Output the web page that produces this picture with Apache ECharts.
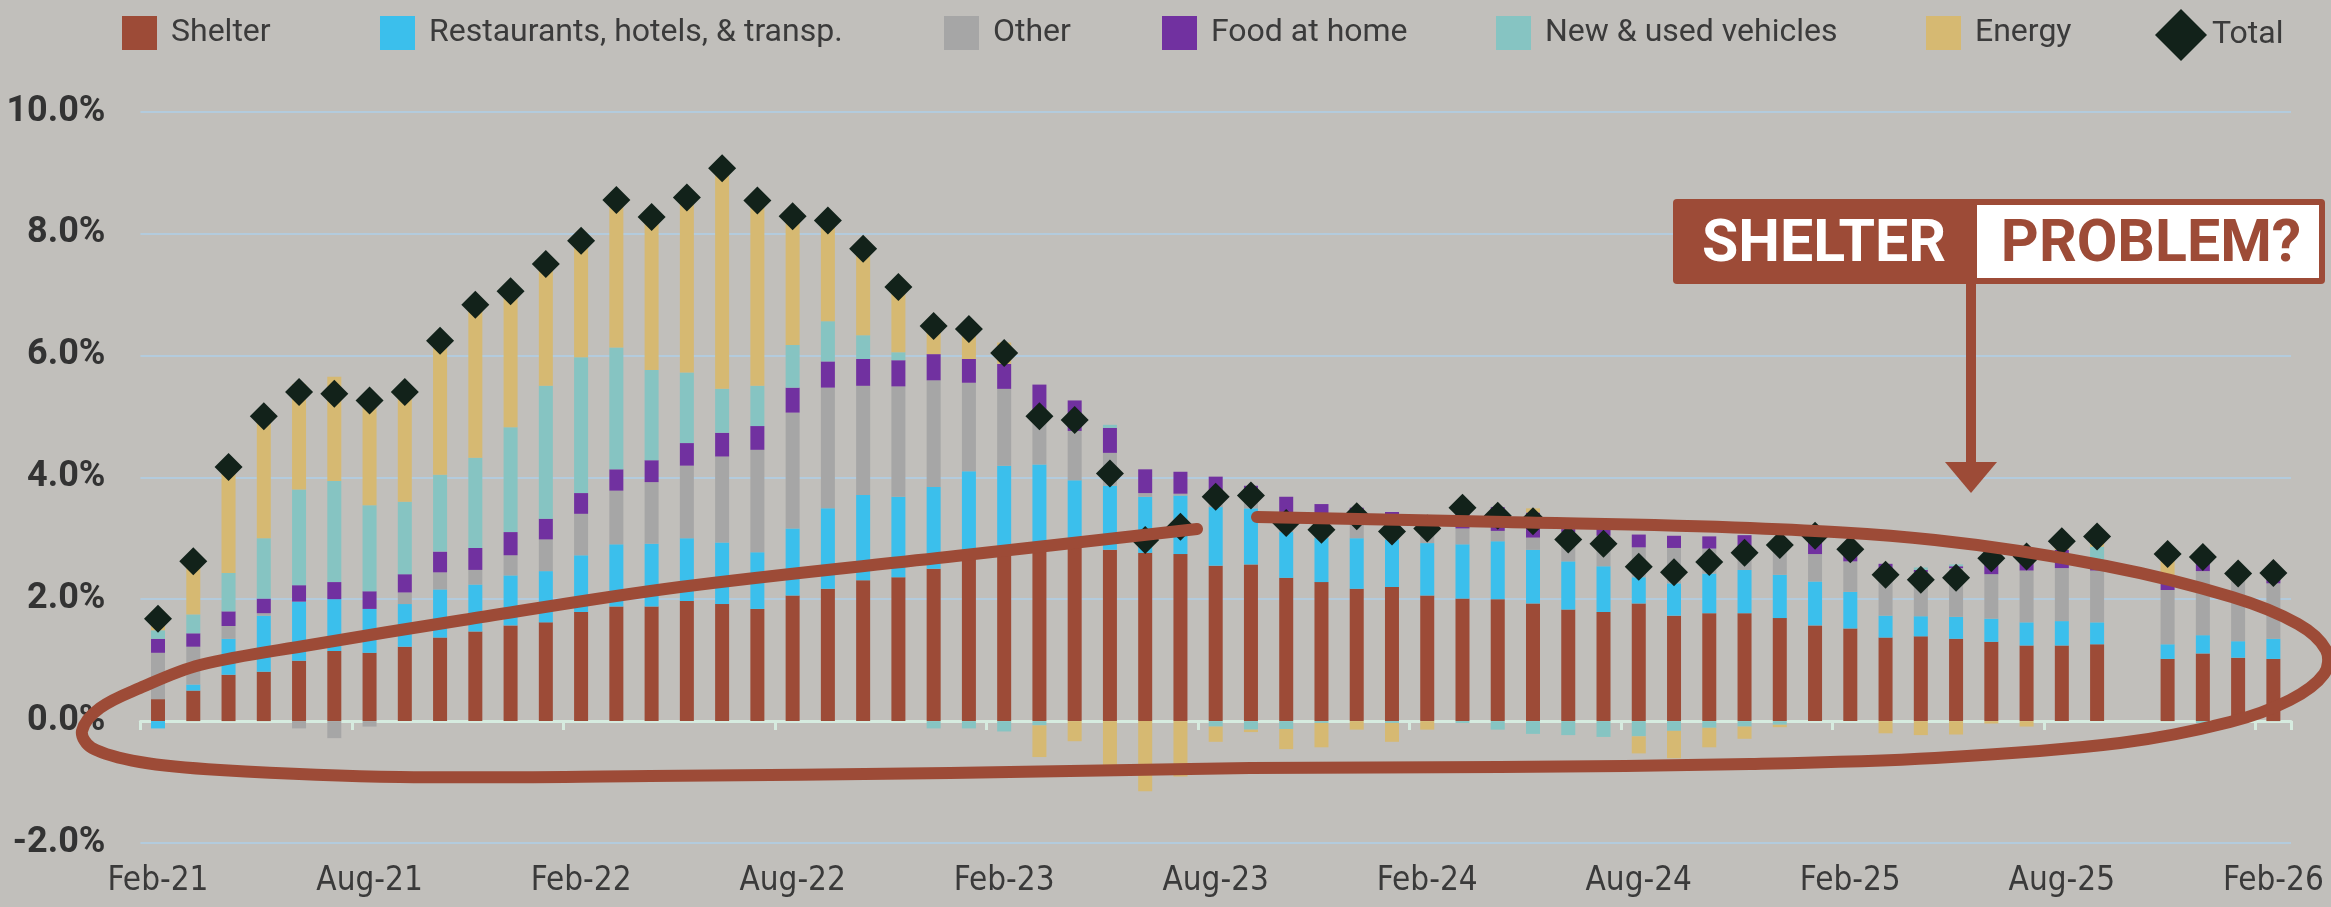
<!DOCTYPE html>
<html><head><meta charset="utf-8">
<script src="https://cdn.jsdelivr.net/npm/echarts@6/dist/echarts.min.js"></script>
<style>html,body{margin:0;padding:0;background:#c1bfbb;}#c{width:2331px;height:907px;}</style>
</head><body><div id="c"></div>
<script>
const categories = ['Feb-21','Mar-21','Apr-21','May-21','Jun-21','Jul-21','Aug-21','Sep-21','Oct-21','Nov-21','Dec-21',
'Jan-22','Feb-22','Mar-22','Apr-22','May-22','Jun-22','Jul-22','Aug-22','Sep-22','Oct-22','Nov-22','Dec-22',
'Jan-23','Feb-23','Mar-23','Apr-23','May-23','Jun-23','Jul-23','Aug-23','Sep-23','Oct-23','Nov-23','Dec-23',
'Jan-24','Feb-24','Mar-24','Apr-24','May-24','Jun-24','Jul-24','Aug-24','Sep-24','Oct-24','Nov-24','Dec-24',
'Jan-25','Feb-25','Mar-25','Apr-25','May-25','Jun-25','Jul-25','Aug-25','Sep-25','Oct-25','Nov-25','Dec-25',
'Jan-26','Feb-26'];

const shelter = [0.36,0.50,0.76,0.81,0.99,1.15,1.12,1.22,1.37,1.47, 1.57,1.62,1.79,1.88,1.88,1.97,1.92,1.84,2.06,2.17,
 2.31,2.36,2.50,2.72,2.83,2.83,2.85,2.81,2.76,2.74, 2.55,2.57,2.35,2.28,2.17,2.20,2.06,2.01,2.00,1.93,
 1.83,1.79,1.93,1.73,1.77,1.77,1.69,1.57,1.52,1.37, 1.39,1.35,1.30,1.24,1.24,1.26,null,1.02,1.11,1.04, 1.02];
const restaurants = [-0.12,0.10,0.59,0.92,0.97,0.85,0.72,0.70,0.79,0.77, 0.82,0.84,0.93,1.02,1.03,1.03,1.01,0.93,1.10,1.32,
 1.40,1.32,1.34,1.38,1.36,1.38,1.10,1.05,0.92,0.96, 0.96,0.92,0.75,0.73,0.83,0.78,0.86,0.89,0.95,0.88,
 0.79,0.75,0.43,0.53,0.65,0.71,0.71,0.72,0.60,0.36, 0.33,0.36,0.38,0.38,0.40,0.36,null,0.24,0.30,0.27, 0.33];
const other = [0.76,0.62,0.21,0.04,-0.12,-0.28,-0.09,0.19,0.28,0.24, 0.33,0.52,0.68,0.88,1.01,1.19,1.41,1.68,1.90,1.98,
 1.79,1.81,1.75,1.45,1.26,0.90,0.81,0.54,0.06,0.03, 0.27,0.31,0.32,0.35,0.36,0.25,0.28,0.26,0.17,0.20,
 0.48,0.50,0.49,0.58,0.41,0.38,0.45,0.45,0.50,0.66, 0.72,0.80,0.73,0.85,0.87,0.85,null,0.89,1.05,1.03, 0.91];
const foodAtHome = [0.23,0.22,0.24,0.24,0.27,0.28,0.29,0.30,0.34,0.36, 0.38,0.34,0.34,0.35,0.36,0.37,0.39,0.39,0.41,0.43,
 0.44,0.43,0.43,0.39,0.41,0.41,0.50,0.41,0.39,0.36, 0.23,0.06,0.26,0.20,0.14,0.20,0.10,0.37,0.39,0.41,
 0.05,0.13,0.21,0.20,0.20,0.19,0.13,0.30,0.20,0.19, 0.04,0.03,0.30,0.33,0.30,0.03,null,0.21,0.22,0.08, 0.17];
const vehicles = [0.14,0.31,0.63,0.99,1.57,1.66,1.41,1.19,1.26,1.48, 1.72,2.18,2.23,2.00,1.48,1.16,0.72,0.66,0.70,0.66,
 0.39,0.13,-0.12,-0.12,-0.17,-0.07,0,0.05,0,0, -0.09,-0.14,-0.13,-0.03,0,-0.03,0,-0.03,-0.14,-0.21,
 -0.23,-0.26,-0.25,-0.16,-0.11,-0.09,-0.06,0,0,0, 0.04,0.03,0,0,0,0.36,null,0,-0.03,-0.03, 0];
const energy = [0.31,0.86,1.74,1.99,1.73,1.71,1.81,1.81,2.21,2.51, 2.22,2.00,1.90,2.43,2.52,2.87,3.61,3.04,2.11,1.64,
 1.41,1.06,0.57,0.60,0.35,-0.52,-0.33,-0.76,-1.15,-0.91, -0.25,-0.04,-0.33,-0.40,-0.14,-0.31,-0.14,0,0,0.07,
 0.06,0,-0.28,-0.45,-0.32,-0.20,-0.04,0,0,-0.20, -0.23,-0.22,-0.04,-0.09,0.14,0.17,null,0.38,0,0, 0];
const total = [1.68,2.62,4.17,5.00,5.40,5.37,5.26,5.40,6.24,6.83, 7.05,7.50,7.88,8.55,8.27,8.59,9.07,8.54,8.28,8.21,
 7.75,7.12,6.48,6.43,6.04,5.00,4.94,4.06,2.97,3.19, 3.68,3.70,3.25,3.14,3.36,3.11,3.16,3.50,3.37,3.28,
 2.98,2.91,2.53,2.44,2.61,2.76,2.89,3.04,2.82,2.40, 2.32,2.35,2.67,2.70,2.95,3.03,null,2.74,2.69,2.42, 2.43];
const yTicks = {min: -2, max: 10, step: 2};

const RED = '#9d4b37';
const barDefs = [
  ['Shelter', shelter, '#9d4b37'],
  ['Restaurants, hotels, & transp.', restaurants, '#3bbfec'],
  ['Other', other, '#a6a6a6'],
  ['Food at home', foodAtHome, '#7131a0'],
  ['New & used vehicles', vehicles, '#86c4c2'],
  ['Energy', energy, '#d6b972']
];
const legendLefts = [117, 375, 939, 1157, 1491, 1921];

const chart = echarts.init(document.getElementById('c'), null, {renderer: 'canvas'});
const series = barDefs.map(([name, data, color]) => ({
  name, type: 'bar', stack: 'cpi', data, barWidth: 14, xAxisIndex: 0,
  itemStyle: {color}, emphasis: {disabled: true}
}));
series.push({
  name: 'Total', type: 'scatter', data: total, xAxisIndex: 0, symbol: 'diamond', symbolSize: 28,
  itemStyle: {color: '#12221a', opacity: 1}, z: 5, emphasis: {disabled: true}
});

const loopPts = [[1257,517],[1506,522],[1750,528],[1935,540],[2106,566],[2232,597],[2298,624],[2326,650],[2324,674],
 [2290,700],[2230,722],[2120,743],[1935,758],[1750,764],[1500,767],[1250,768],[950,773],[650,776],[400,777],
 [220,770],[140,762],[92,748],[82,731],[100,708],[140,688],[200,665],[310,645],[463,620],[680,587],[956,556],[1197,529]];

const legendText = {fontFamily: 'Roboto', fontSize: 32, color: '#3b3b3b', padding: [0,0,0,9]};
const legends = barDefs.map((d, i) => ({
  data: [d[0]], left: legendLefts[i], top: 11, icon: 'rect', itemWidth: 35, itemHeight: 34,
  textStyle: legendText, selectedMode: false
}));
legends.push({data: ['Total'], left: 2150, top: 4, icon: 'diamond', itemWidth: 52, itemHeight: 52,
  textStyle: {fontFamily: 'Roboto', fontSize: 32, color: '#3b3b3b'}, selectedMode: false});

const option = {
  backgroundColor: '#c1bfbb',
  animation: false,
  grid: {left: 140.4, right: 40, top: 111.5, bottom: 64},
  legend: legends,
  xAxis: [
    {type: 'category', data: categories, position: 'bottom',
     axisLine: {onZero: true, lineStyle: {color: '#d6ebdf', width: 3}},
     axisTick: {show: true, interval: 5, length: 9, lineStyle: {color: '#d6ebdf', width: 3}},
     axisLabel: {show: false}, splitLine: {show: false}},
    {type: 'category', data: categories, position: 'bottom',
     axisLine: {show: false, onZero: false}, axisTick: {show: false}, splitLine: {show: false},
     axisLabel: {interval: 5, margin: 22, fontFamily: '"Liberation Sans Narrow", "DejaVu Sans Condensed", sans-serif',
       fontSize: 33, color: '#3a3a3a'}}
  ],
  yAxis: {type: 'value', min: yTicks.min, max: yTicks.max, interval: yTicks.step,
    axisLine: {show: false}, axisTick: {show: false},
    splitLine: {lineStyle: {color: '#b3cbdd', width: 2}},
    axisLabel: {formatter: v => v.toFixed(1) + '%', fontFamily: 'Roboto', fontWeight: 'bold', fontSize: 36,
      color: '#333', margin: 35}},
  series,
  graphic: [
    {type: 'polyline', z: 100, shape: {points: loopPts, smooth: 0.35},
     style: {stroke: RED, lineWidth: 12, fill: null, lineCap: 'round', lineJoin: 'round'}},
    {type: 'rect', z: 100, shape: {x: 1673, y: 199, width: 652, height: 85, r: 4}, style: {fill: RED}},
    {type: 'rect', z: 101, shape: {x: 1977, y: 205, width: 342, height: 73}, style: {fill: '#ffffff'}},
    {type: 'text', z: 102, x: 1824, y: 246, style: {text: 'SHELTER', fill: '#ffffff', font: 'bold 59px Roboto',
      align: 'center', verticalAlign: 'middle'}},
    {type: 'text', z: 102, x: 2151, y: 246, style: {text: 'PROBLEM?', fill: RED, font: 'bold 59px Roboto',
      align: 'center', verticalAlign: 'middle'}},
    {type: 'rect', z: 100, shape: {x: 1966, y: 282, width: 10, height: 182}, style: {fill: RED}},
    {type: 'polygon', z: 100, shape: {points: [[1945,462],[1997,462],[1971,493]]}, style: {fill: RED}}
  ]
};
chart.setOption(option);
</script></body></html>
